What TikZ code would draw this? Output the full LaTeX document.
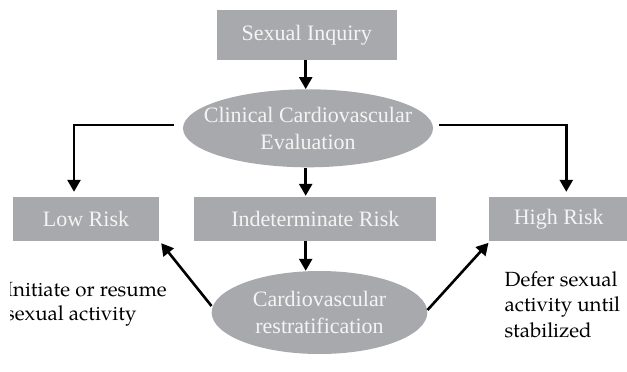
\documentclass[tikz,border=0pt]{standalone}
\usepackage{fontspec}
\setmainfont{Liberation Serif}
\IfFontExistsTF{TeX Gyre Pagella}
  {\newfontfamily\palfont{TeX Gyre Pagella}}
  {\newfontfamily\palfont{Latin Modern Roman}}
\usetikzlibrary{arrows.meta,shapes.geometric}
\definecolor{boxgray}{HTML}{A8A9AC}
\definecolor{boxtext}{HTML}{F4F4F4}
\tikzset{
  graybox/.style={rectangle, fill=boxgray, draw=none, inner sep=0pt,
    text=boxtext, font=\fontsize{22}{27}\selectfont},
  grayell/.style={ellipse, fill=boxgray, draw=none, inner ysep=0pt,
    text=boxtext, align=center, font=\fontsize{22}{27}\selectfont},
  arr/.style={line width=2.6pt, -{Triangle[length=12pt,width=13pt]}},
  note/.style={inner sep=0pt, align=left, anchor=base west,
    font=\palfont\fontsize{20.5}{24}\selectfont},
  widenote/.style={note, font=\palfont\fontsize{20.5}{25.5}\selectfont}
}
\begin{document}
\begin{tikzpicture}[x=1pt,y=-1pt]
\useasboundingbox (0,0) rectangle (627,372);
\node[graybox, minimum width=180pt, minimum height=50pt] (si) at (306.7,35) {Sexual Inquiry};
\node[grayell, inner xsep=-20pt, minimum width=250pt, minimum height=78pt] (e1) at (308,128.3) {Clinical Cardiovascular\\Evaluation};
\node[graybox, minimum width=146pt, minimum height=44pt] (low) at (86,219) {Low Risk};
\node[graybox, minimum width=242pt, minimum height=44pt] (ind) at (315.3,219) {Indeterminate Risk};
\node[graybox, minimum width=140pt, minimum height=44pt] (high) at (558.7,219) {High Risk};
\node[grayell, inner xsep=0pt, minimum width=215.6pt, minimum height=83pt] (e2) at (319.5,312.5) {Cardiovascular\\restratification};

\begin{scope}
\clip (10,250) rectangle (200,340);
\node[note] (init) at (6,320.3) {Initiate or resume\\sexual activity};
\end{scope}
\node[widenote] (defer) at (504.5,337) {Defer sexual\\activity until\\stabilized};

\draw[arr] (si.south -| 305.7,0) -- (e1.north -| 305.7,0);
\draw[arr, shorten >=5pt] ([xshift=-9pt,yshift=3.3pt]e1.west) -| ([xshift=-12pt]low.north);
\draw[arr, shorten >=5pt] ([xshift=6pt,yshift=3.3pt]e1.east) -| ([xshift=7.6pt]high.north);
\draw[arr, shorten >=1pt] ([xshift=-9.6pt]ind.north |- e1.south) -- ([xshift=-9.6pt]ind.north);
\draw[arr] ([xshift=-9.6pt]ind.south) -- ([xshift=-9.6pt]ind.south |- e2.north);
\draw[arr] ([yshift=6.5pt]e2.west) -- ([xshift=2pt,yshift=-2pt]low.south east);
\draw[arr] ([xshift=0pt,yshift=2.5pt]e2.east) -- ([yshift=-1.6pt]high.south west);
\end{tikzpicture}
\end{document}
